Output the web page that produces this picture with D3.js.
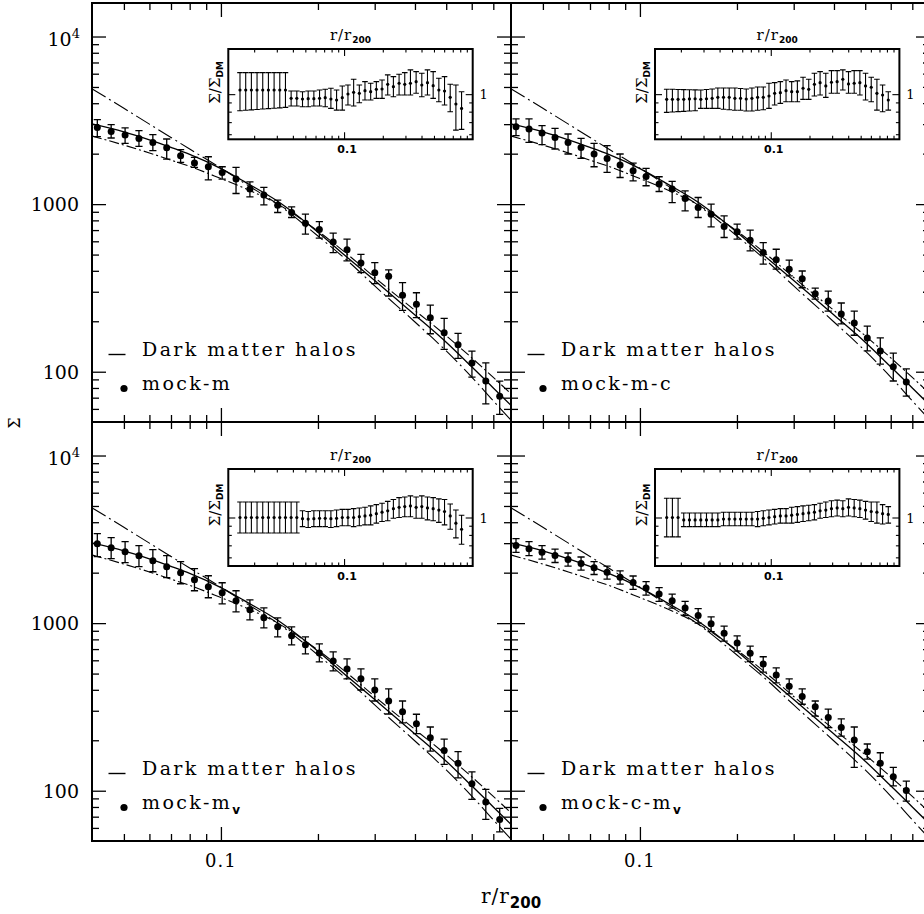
<!DOCTYPE html>
<html>
<head>
<meta charset="utf-8">
<script src="https://cdn.jsdelivr.net/npm/d3@7/dist/d3.min.js"></script>
<style>
  html, body { margin: 0; padding: 0; background: #fff; }
  svg { display: block; }
  text { font-family: "DejaVu Serif", serif; fill: #000; }
  .sub { font-family: "DejaVu Sans", sans-serif; font-weight: bold; }
</style>
</head>
<body>
<svg id="chart" width="924" height="914"></svg>
<script>
// ---------------- data ----------------
// radial bins (r / r200) of the stacked profiles
const rBinsLeft = [0.04135, 0.04565, 0.05043, 0.05568, 0.06149, 0.06789, 0.07497, 0.08278, 0.0914, 0.1009,
  0.1114, 0.123, 0.1359, 0.15, 0.1657, 0.1829, 0.202, 0.223, 0.2462, 0.2719,
  0.3002, 0.3315, 0.366, 0.4042, 0.4463, 0.4928, 0.5442, 0.6009, 0.6635, 0.7327];
const rBinsRight = [0.04126, 0.04528, 0.04969, 0.05453, 0.05984, 0.06567, 0.07207, 0.07909, 0.08679, 0.09524,
  0.1045, 0.1147, 0.1259, 0.1381, 0.1516, 0.1663, 0.1825, 0.2003, 0.2198, 0.2413,
  0.2648, 0.2905, 0.3188, 0.3499, 0.384, 0.4214, 0.4624, 0.5075, 0.5569, 0.6111, 0.6707];

// dark matter halo profile and the two comparison profiles
const modelR       = [0.0398, 0.05, 0.06, 0.07, 0.08, 0.1, 0.12, 0.15, 0.2, 0.25, 0.3, 0.4, 0.5, 0.6, 0.7, 0.794];
const dmHalo       = [3010, 2700, 2420, 2180, 1980, 1630, 1340, 1040, 680, 470, 350, 218, 150, 107, 80, 63];
const steepProfile = [4880, 3730, 3000, 2500, 2130, 1640, 1310, 1000, 645, 450, 325, 198, 133, 93, 67, 51.5];
const flatProfile  = [2550, 2250, 2020, 1830, 1680, 1420, 1230, 1000, 690, 492, 365, 232, 164, 121, 92.5, 74];

// mock-m
const mockM   = [2870, 2716, 2585, 2467, 2335, 2171, 1944, 1758, 1671, 1545, 1411, 1229, 1132, 986, 891, 770, 705, 595, 535, 446, 390, 371, 286, 252.5, 210, 170.8, 144.8, 112.6, 87.9, 71.5];
const mockMHi = [3191, 2979, 2847, 2742, 2595, 2446, 2112, 1899, 1917, 1671, 1656, 1359, 1257, 1056, 963, 871, 787, 671, 618, 502, 448, 405, 340, 296, 250, 208, 169.4, 132.8, 113, 87.9];
const mockMLo = [2525, 2480, 2303, 2210, 2083, 1858, 1773, 1656, 1397, 1411, 1157, 1106, 990, 891, 832, 662, 626, 514, 458, 390, 335, 283, 232, 210, 168.5, 136, 120, 92.8, 64.3, 55.6];

// mock-m-c
const mockMC   = [2897, 2808, 2657, 2501, 2335, 2180, 1991, 1874, 1711, 1581, 1462, 1317, 1229, 1080, 954, 871, 735, 683, 609, 514, 465, 409, 359, 292, 264, 221, 195, 159, 133, 107, 86.7];
const mockMCHi = [3222, 3222, 2938, 2831, 2620, 2467, 2303, 2231, 1991, 1758, 1633, 1456, 1365, 1201, 1095, 1000, 851, 759, 699, 590, 538, 463, 399, 315, 303, 257, 230, 187, 159, 129, 104];
const mockMCLo = [2560, 2335, 2262, 2133, 1991, 1874, 1671, 1545, 1442, 1378, 1287, 1189, 1022, 912, 832, 732, 632, 618, 526, 438, 409, 373, 317, 271, 230, 193, 165, 133, 111, 88, 71.5];

// mock-m_v
const mockMV   = [2979, 2819, 2668, 2525, 2358, 2171, 1999, 1815, 1648, 1518, 1359, 1201, 1076, 950, 840, 742, 664, 595, 533, 465, 399, 343, 296, 251, 207, 174, 145.6, 110, 85.5, 67.4];
const mockMVHi = [3418, 3235, 3062, 2897, 2742, 2525, 2325, 2112, 1917, 1741, 1560, 1378, 1234, 1076, 950, 828, 752, 674, 612, 533, 465, 405, 343, 286, 240, 203, 171, 129.7, 101.8, 78.4];
const mockMVLo = [2491, 2423, 2293, 2171, 2026, 1866, 1718, 1560, 1417, 1304, 1168, 1046, 937, 828, 742, 655, 587, 519, 465, 399, 343, 287, 254, 219, 172.5, 143.6, 119.4, 88.7, 67.4, 56.8];

// mock-c-m_v
const mockCMV   = [2900, 2780, 2650, 2530, 2400, 2270, 2140, 2010, 1880, 1750, 1620, 1490, 1360, 1230, 1110, 990, 870, 760, 660, 570, 490, 420, 365, 317, 273, 238, 201, 171, 146, 121, 100.4];
const mockCMVHi = [3190, 3060, 2900, 2760, 2620, 2480, 2330, 2190, 2050, 1910, 1770, 1630, 1490, 1350, 1220, 1090, 960, 840, 730, 630, 540, 465, 405, 343, 307, 268, 240, 190, 168.5, 138, 114];
const mockCMVLo = [2640, 2530, 2410, 2300, 2190, 2070, 1950, 1830, 1710, 1590, 1470, 1350, 1230, 1110, 1000, 890, 780, 680, 590, 510, 440, 378, 328, 279, 238, 212, 138, 154.5, 122, 107, 86.7];

// ratio to the dark matter profile (insets)
const rInset = [0.01552, 0.01719, 0.01903, 0.02106, 0.02332, 0.02581, 0.02858, 0.03164, 0.03502, 0.03877,
  0.04292, 0.04752, 0.0526, 0.05823, 0.06447, 0.07136, 0.079, 0.08746, 0.09683, 0.1072,
  0.1187, 0.1314, 0.1454, 0.161, 0.1782, 0.1973, 0.2184, 0.2418, 0.2677, 0.2963,
  0.3281, 0.3632, 0.4021, 0.4451, 0.4928, 0.5455, 0.6039, 0.6686, 0.7401, 0.8194];

const ratioM   = [1.054, 1.054, 1.054, 1.054, 1.054, 1.054, 1.054, 1.054, 1.054, 0.948, 0.948, 0.940, 0.944, 0.944, 0.948, 0.956, 0.940, 0.928, 0.956, 1.002, 1.024, 1.011, 1.045, 1.032, 1.064, 1.068, 1.134, 1.100, 1.149, 1.134, 1.149, 1.173, 1.124, 1.158, 1.114, 1.054, 1.041, 0.960, 0.882, 0.834];
const ratioMHi = [1.316, 1.316, 1.316, 1.316, 1.316, 1.316, 1.316, 1.316, 1.316, 1.041, 1.041, 1.032, 1.041, 1.041, 1.054, 1.064, 1.078, 1.054, 1.110, 1.124, 1.209, 1.124, 1.173, 1.149, 1.173, 1.198, 1.278, 1.250, 1.289, 1.316, 1.362, 1.332, 1.305, 1.362, 1.332, 1.225, 1.250, 1.134, 1.124, 1.032];
const ratioMLo = [0.810, 0.814, 0.818, 0.823, 0.827, 0.832, 0.836, 0.840, 0.845, 0.859, 0.859, 0.852, 0.852, 0.859, 0.859, 0.852, 0.834, 0.816, 0.816, 0.870, 0.859, 0.897, 0.928, 0.928, 0.948, 0.948, 0.989, 0.968, 0.989, 0.989, 0.989, 1.011, 0.968, 0.989, 0.948, 0.908, 0.870, 0.799, 0.632, 0.638];

const ratioMC   = [0.936, 0.936, 0.936, 0.936, 0.941, 0.943, 0.936, 0.943, 0.948, 0.960, 0.960, 0.960, 0.948, 0.948, 0.940, 0.948, 0.960, 0.960, 0.977, 1.011, 1.019, 1.045, 1.032, 1.032, 1.078, 1.064, 1.134, 1.158, 1.110, 1.164, 1.173, 1.209, 1.139, 1.149, 1.158, 1.110, 1.092, 1.011, 0.989, 0.928];
const ratioMCHi = [1.064, 1.064, 1.062, 1.060, 1.058, 1.056, 1.054, 1.061, 1.068, 1.081, 1.081, 1.081, 1.081, 1.075, 1.068, 1.081, 1.095, 1.095, 1.149, 1.158, 1.173, 1.198, 1.173, 1.185, 1.240, 1.209, 1.305, 1.332, 1.305, 1.350, 1.350, 1.362, 1.332, 1.350, 1.350, 1.305, 1.240, 1.209, 1.124, 1.032];
const ratioMCLo = [0.793, 0.797, 0.800, 0.803, 0.807, 0.810, 0.834, 0.834, 0.834, 0.834, 0.825, 0.820, 0.815, 0.815, 0.807, 0.807, 0.815, 0.820, 0.834, 0.870, 0.889, 0.908, 0.908, 0.908, 0.936, 0.936, 0.977, 0.989, 0.960, 1.011, 1.011, 1.054, 1.011, 1.011, 0.989, 0.928, 0.908, 0.816, 0.799, 0.816];

const ratioMV   = [1.0, 1.0, 1.0, 1.0, 1.0, 1.0, 1.0, 1.0, 1.0, 1.0, 1.0, 0.985, 0.98, 0.985, 0.99, 0.99, 0.985, 0.99, 1.0, 1.0, 1.0, 1.01, 1.02, 1.03, 1.05, 1.07, 1.09, 1.12, 1.14, 1.15, 1.16, 1.14, 1.15, 1.13, 1.12, 1.10, 1.08, 1.02, 0.93, 0.86];
const ratioMVHi = [1.22, 1.22, 1.22, 1.22, 1.22, 1.22, 1.22, 1.22, 1.22, 1.22, 1.22, 1.09, 1.08, 1.09, 1.09, 1.09, 1.09, 1.10, 1.11, 1.11, 1.12, 1.13, 1.14, 1.16, 1.18, 1.20, 1.23, 1.26, 1.29, 1.30, 1.32, 1.30, 1.32, 1.30, 1.29, 1.27, 1.26, 1.19, 1.10, 1.03];
const ratioMVLo = [0.82, 0.82, 0.82, 0.82, 0.82, 0.82, 0.82, 0.82, 0.82, 0.82, 0.82, 0.89, 0.88, 0.89, 0.89, 0.89, 0.88, 0.89, 0.90, 0.90, 0.89, 0.90, 0.91, 0.91, 0.93, 0.95, 0.96, 0.99, 1.0, 1.01, 1.01, 0.99, 0.99, 0.97, 0.96, 0.94, 0.91, 0.86, 0.77, 0.71];

const ratioCMV   = [1.0, 1.0, 1.0, 0.97, 0.97, 0.97, 0.97, 0.97, 0.97, 0.97, 0.98, 0.98, 0.98, 0.98, 0.98, 0.98, 0.98, 0.99, 1.0, 1.01, 1.02, 1.02, 1.03, 1.04, 1.05, 1.06, 1.07, 1.09, 1.10, 1.12, 1.13, 1.12, 1.14, 1.13, 1.12, 1.10, 1.08, 1.07, 1.05, 1.04];
const ratioCMVHi = [1.28, 1.28, 1.28, 1.06, 1.06, 1.06, 1.06, 1.06, 1.06, 1.06, 1.07, 1.07, 1.07, 1.07, 1.07, 1.07, 1.08, 1.09, 1.10, 1.11, 1.12, 1.12, 1.14, 1.15, 1.16, 1.17, 1.18, 1.20, 1.22, 1.24, 1.25, 1.24, 1.27, 1.26, 1.25, 1.23, 1.22, 1.22, 1.18, 1.15];
const ratioCMVLo = [0.78, 0.78, 0.78, 0.89, 0.89, 0.89, 0.89, 0.89, 0.89, 0.89, 0.90, 0.90, 0.90, 0.90, 0.90, 0.90, 0.89, 0.90, 0.91, 0.92, 0.93, 0.93, 0.93, 0.94, 0.95, 0.96, 0.97, 0.99, 1.0, 1.01, 1.02, 1.01, 1.02, 1.01, 1.00, 0.98, 0.95, 0.93, 0.92, 0.93];

// tick values
const xMajorTicks = [0.1];
const xMinorTicks = [0.05, 0.06, 0.07, 0.08, 0.09, 0.2, 0.3, 0.4, 0.5, 0.6, 0.7];
const yMajorTicks = [100, 1000, 10000];
const yMinorTicks = [60, 70, 80, 90, 200, 300, 400, 500, 600, 700, 800, 900, 2000, 3000, 4000, 5000, 6000, 7000, 8000, 9000];
const insetXMajor = [0.1];
const insetXMinor = [0.02, 0.03, 0.04, 0.05, 0.06, 0.07, 0.08, 0.09, 0.2, 0.3, 0.4, 0.5, 0.6, 0.7, 0.8, 0.9];
const insetYMajor = [1];
const insetYMinor = [0.6, 0.7, 0.8, 0.9];

// ---------------- layout ----------------
const svg = d3.select("#chart");
const LEFT = 92, TOP = 3, PW = 419, PH = 419;
const IW = 244.4;
const insetH = [90.3, 97];
const insetSpan = [0.25, 0.27];          // half-range of the inset ratio axis, in dex
const insetLeft = [136.3, 144];
const insetTop = [49, 469];

const x = d3.scaleLog().domain([Math.pow(10, -1.4), Math.pow(10, -0.1)]).range([0, PW]);
const y = d3.scaleLog().domain([Math.pow(10, 1.7), Math.pow(10, 4.2)]).range([PH, 0]);
const xi = d3.scaleLog().domain([Math.pow(10, -1.9), 1]).range([0, IW]);

const panels = [
  { col: 0, row: 0, name: "mock-m", sub: "", r: rBinsLeft, v: mockM, hi: mockMHi, lo: mockMLo, q: ratioM, qHi: ratioMHi, qLo: ratioMLo },
  { col: 1, row: 0, name: "mock-m-c", sub: "", r: rBinsRight, v: mockMC, hi: mockMCHi, lo: mockMCLo, q: ratioMC, qHi: ratioMCHi, qLo: ratioMCLo },
  { col: 0, row: 1, name: "mock-m", sub: "v", r: rBinsLeft, v: mockMV, hi: mockMVHi, lo: mockMVLo, q: ratioMV, qHi: ratioMVHi, qLo: ratioMVLo },
  { col: 1, row: 1, name: "mock-c-m", sub: "v", r: rBinsRight, v: mockCMV, hi: mockCMVHi, lo: mockCMVLo, q: ratioCMV, qHi: ratioCMVHi, qLo: ratioCMVLo }
];

// inward ticks on all four sides of a frame, drawn with d3 axes
function frameTicks(g, xs, ys, w, h, xMaj, xMin, yMaj, yMin, lenMaj, lenMin, sw) {
  const add = (axis, vals, len, tr) => {
    const a = g.append("g").attr("transform", tr)
      .call(axis.tickValues(vals).tickSize(-len).tickSizeOuter(0).tickFormat(""));
    a.select(".domain").remove();
    a.selectAll(".tick line").attr("stroke", "#000").attr("stroke-width", sw);
  };
  add(d3.axisBottom(xs), xMaj, lenMaj, `translate(0,${h})`);
  add(d3.axisBottom(xs), xMin, lenMin, `translate(0,${h})`);
  add(d3.axisTop(xs), xMaj, lenMaj, "translate(0,0)");
  add(d3.axisTop(xs), xMin, lenMin, "translate(0,0)");
  add(d3.axisLeft(ys), yMaj, lenMaj, "translate(0,0)");
  add(d3.axisLeft(ys), yMin, lenMin, "translate(0,0)");
  add(d3.axisRight(ys), yMaj, lenMaj, `translate(${w},0)`);
  add(d3.axisRight(ys), yMin, lenMin, `translate(${w},0)`);
}

function errorBars(g, xs, ys, r, v, lo, hi, cap, rad, sw) {
  const pts = r.map((rv, i) => ({ r: rv, v: v[i], lo: lo[i], hi: hi[i] }));
  const eb = g.append("g").attr("stroke", "#000").attr("stroke-width", sw).attr("fill", "none");
  eb.selectAll("path").data(pts).join("path")
    .attr("d", d => {
      const px = xs(d.r), y1 = ys(d.hi), y2 = ys(d.lo);
      return `M${px},${y1}V${y2}M${px - cap},${y1}H${px + cap}M${px - cap},${y2}H${px + cap}`;
    });
  g.append("g").selectAll("circle").data(pts).join("circle")
    .attr("cx", d => xs(d.r)).attr("cy", d => ys(d.v)).attr("r", rad).attr("fill", "#000");
}

const modelLine = d3.line().x(d => x(d[0])).y(d => y(d[1])).curve(d3.curveMonotoneX);
const models = [
  { vals: dmHalo, dash: null, w: 1.3 },
  { vals: steepProfile, dash: "16 4 2 4", w: 1.1 },
  { vals: flatProfile, dash: "10 3 2 3", w: 1.1 }
];

panels.forEach(p => {
  const gx = LEFT + p.col * PW, gy = TOP + p.row * PH;
  const g = svg.append("g").attr("transform", `translate(${gx},${gy})`);
  const cid = `clip-${p.col}-${p.row}`;
  g.append("clipPath").attr("id", cid).append("rect").attr("width", PW).attr("height", PH);
  const plot = g.append("g").attr("clip-path", `url(#${cid})`);

  models.forEach(m => {
    plot.append("path")
      .datum(modelR.map((r, i) => [r, m.vals[i]]))
      .attr("d", modelLine)
      .attr("fill", "none").attr("stroke", "#000")
      .attr("stroke-width", m.w)
      .attr("stroke-dasharray", m.dash);
  });

  errorBars(plot, x, y, p.r, p.v, p.lo, p.hi, 3.6, 3.5, 1.3);

  // legend
  const lg = g.append("g");
  lg.append("line").attr("x1", 16.5).attr("x2", 33.5).attr("y1", PH - 67.5).attr("y2", PH - 67.5)
    .attr("stroke", "#000").attr("stroke-width", 1.4);
  lg.append("text").attr("x", 50).attr("y", PH - 66.5)
    .style("font-size", "19px").style("letter-spacing", "2.4px").text("Dark matter halos");
  lg.append("circle").attr("cx", 32).attr("cy", PH - 33.5).attr("r", 3.6).attr("fill", "#000");
  const t2 = lg.append("text").attr("x", 50).attr("y", PH - 32.5)
    .style("font-size", "19px").style("letter-spacing", "2.4px");
  t2.append("tspan").text(p.name);
  if (p.sub) t2.append("tspan").attr("dy", 5).style("font-size", "12px").style("letter-spacing", "0px")
    .attr("class", "sub").text(p.sub);

  frameTicks(g, x, y, PW, PH, xMajorTicks, xMinorTicks, yMajorTicks, yMinorTicks, 14, 7, 1.3);
  g.append("rect").attr("width", PW).attr("height", PH)
    .attr("fill", "none").attr("stroke", "#000").attr("stroke-width", 2);

  // y tick labels on the left column
  if (p.col === 0) {
    yMajorTicks.forEach(t => {
      const tx = g.append("text").attr("x", -13).attr("text-anchor", "end").style("font-size", "19px");
      if (t === 10000) {
        tx.attr("y", y(t) + 9).attr("x", -12);
        tx.append("tspan").text("10");
        tx.append("tspan").attr("dy", -8).style("font-size", "13px").text("4");
      } else {
        tx.attr("y", y(t) + 7).text(d3.format("d")(t));
      }
    });
  }
  // x tick labels on the bottom row
  if (p.row === 1) {
    xMajorTicks.forEach(t => {
      g.append("text").attr("x", x(t)).attr("y", PH + 26).attr("text-anchor", "middle")
        .style("font-size", "18px").style("letter-spacing", "1px").text(t);
    });
  }

  // inset: ratio to the dark matter profile
  const IH = insetH[p.row], span = insetSpan[p.row];
  const yi = d3.scaleLog().domain([Math.pow(10, -span), Math.pow(10, span)]).range([IH, 0]);
  const ig = svg.append("g").attr("transform", `translate(${gx + insetLeft[p.col]},${insetTop[p.row]})`);
  ig.append("rect").attr("width", IW).attr("height", IH).attr("fill", "#fff");
  const icid = `iclip-${p.col}-${p.row}`;
  ig.append("clipPath").attr("id", icid).append("rect").attr("width", IW).attr("height", IH);
  const ip = ig.append("g").attr("clip-path", `url(#${icid})`);
  errorBars(ip, xi, yi, rInset, p.q, p.qLo, p.qHi, 2.8, 1.6, 1.1);
  frameTicks(ig, xi, yi, IW, IH, insetXMajor, insetXMinor, insetYMajor, insetYMinor, 7, 3.5, 1.1);
  ig.append("rect").attr("width", IW).attr("height", IH)
    .attr("fill", "none").attr("stroke", "#000").attr("stroke-width", 2);

  const title = ig.append("text").attr("x", IW / 2).attr("y", -9).attr("text-anchor", "middle")
    .style("font-size", "15px").style("letter-spacing", "1px");
  title.append("tspan").text("r/r");
  title.append("tspan").attr("class", "sub").attr("dy", 3).style("font-size", "9px").style("letter-spacing", "0px").text("200");

  const yl = ig.append("text").attr("transform", `translate(-8,${IH * 0.37}) rotate(-90)`)
    .attr("text-anchor", "middle").style("font-size", "15px");
  yl.append("tspan").text("Σ/Σ");
  yl.append("tspan").attr("class", "sub").attr("dy", 3).style("font-size", "9px").text("DM");

  ig.append("text").attr("x", IW + 11).attr("y", yi(1) + 5).attr("text-anchor", "middle")
    .style("font-size", "13px").text("1");
  ig.append("text").attr("x", xi(0.1) + 3).attr("y", IH + 14).attr("text-anchor", "middle")
    .attr("class", "sub").style("font-size", "11px").text("0.1");
});

// axis titles
svg.append("text").attr("transform", `translate(20,423) rotate(-90)`).attr("text-anchor", "middle")
  .style("font-size", "16px").text("Σ");
const xt = svg.append("text").attr("x", 511).attr("y", 903).attr("text-anchor", "middle")
  .style("font-size", "20px").style("letter-spacing", "1px");
xt.append("tspan").text("r/r");
xt.append("tspan").attr("class", "sub").attr("dy", 5).style("font-size", "15px").style("letter-spacing", "0px").text("200");
</script>
</body>
</html>
